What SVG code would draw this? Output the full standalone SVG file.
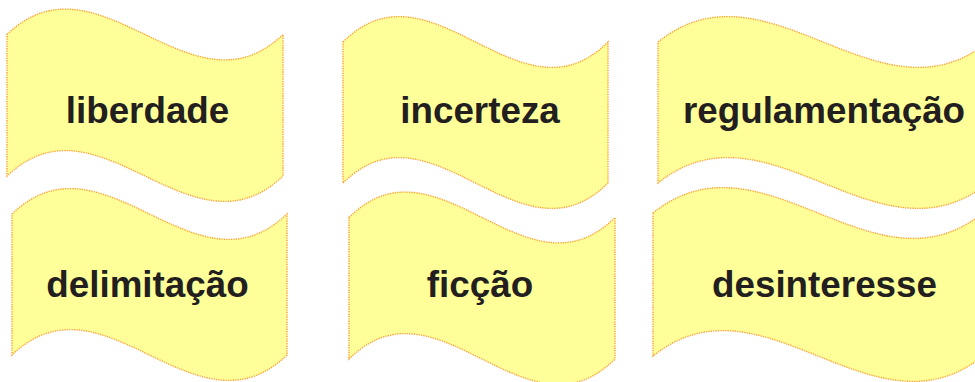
<svg xmlns="http://www.w3.org/2000/svg" width="975" height="382" viewBox="0 0 975 382">
<style>
.flag{fill:#FFFF99;stroke:#FF9F2E;stroke-width:1.4;stroke-dasharray:1.3 1.1}
.lbl{font-family:"Liberation Sans",Arial,sans-serif;font-weight:bold;font-size:36.8px;fill:#231F20;text-anchor:middle}
</style>
<rect width="975" height="382" fill="#FFFFFF"/>
<g id="liberdade">
<path class="flag" d="M7,34.5 C99,-53.5 191,122.5 283,34.5 L283,176 C191,264 99,88 7,176 Z"/>
<text class="lbl" x="147.5" y="123">liberdade</text>
</g>
<g id="incerteza">
<path class="flag" d="M343,42 C431.3,-46 519.7,130 608,42 L608,183 C519.7,271 431.3,95 343,183 Z"/>
<text class="lbl" x="480" y="123">incerteza</text>
</g>
<g id="regulamentacao">
<path class="flag" d="M658,42 C768,-46 878,130 988,42 L988,183 C878,271 768,95 658,183 Z"/>
<text class="lbl" x="824" y="123">regulamentação</text>
</g>
<g id="delimitacao">
<path class="flag" d="M12,214 C103.7,126 195.3,302 287,214 L287,355 C195.3,443 103.7,267 12,355 Z"/>
<text class="lbl" x="147.5" y="297">delimitação</text>
</g>
<g id="ficcao">
<path class="flag" d="M349,217.5 C437.7,129.5 526.3,305.5 615,217.5 L615,359 C526.3,447 437.7,271 349,359 Z"/>
<text class="lbl" x="480" y="297">ficção</text>
</g>
<g id="desinteresse">
<path class="flag" d="M653,213 C763,125 873,301 983,213 L983,356 C873,444 763,268 653,356 Z"/>
<text class="lbl" x="824.5" y="297">desinteresse</text>
</g>
<g id="connectors"></g>
</svg>
